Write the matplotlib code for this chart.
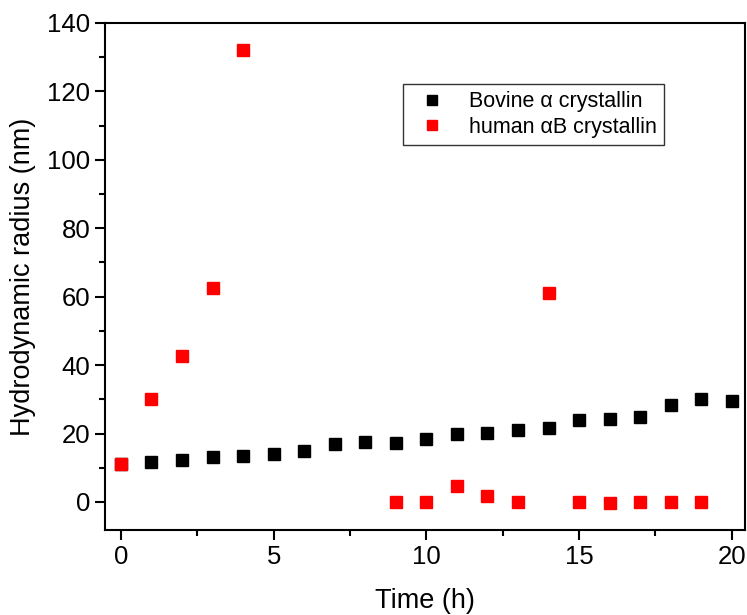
import matplotlib
matplotlib.use('Agg')
from matplotlib import pyplot as plt
from matplotlib.ticker import MultipleLocator

plt.rcParams['font.family'] = ['Liberation Sans', 'DejaVu Sans']

#bovine alpha crystallin
time_bovine = [0, 1, 2, 3, 4, 5, 6, 7, 8, 9, 10, 11, 12, 13, 14, 15, 16, 17, 18, 19, 20]
radius_bovine = [11.0, 11.7, 12.3, 13.2, 13.4, 14.0, 15.0, 16.8, 17.5, 17.2, 18.5,
                 19.8, 20.3, 21.0, 21.6, 23.9, 24.2, 24.8, 28.2, 30.2, 29.6]

#human alphaB crystallin
time_human = [0, 1, 2, 3, 4, 9, 10, 11, 12, 13, 14, 15, 16, 17, 18, 19]
radius_human = [11.2, 30.0, 42.7, 62.5, 132.0, 0.0, 0.0, 4.7, 1.6, 0.0, 61.0,
                0.0, -0.3, 0.1, 0.0, 0.1]

fig = plt.figure(figsize=(7.47, 6.15), dpi=100)
ax = fig.add_axes([105/747, 85/615, 640/747, 507/615])

ax.plot(time_bovine, radius_bovine, 's', color='black', markersize=9,
        label='Bovine \u03b1 crystallin')
ax.plot(time_human, radius_human, 's', color='red', markersize=9,
        label='human \u03b1B crystallin')

ax.set_xlim(-0.52, 20.43)
ax.set_ylim(-8.2, 140)
ax.xaxis.set_major_locator(MultipleLocator(5))
ax.xaxis.set_minor_locator(MultipleLocator(2.5))
ax.yaxis.set_major_locator(MultipleLocator(20))
ax.yaxis.set_minor_locator(MultipleLocator(10))
ax.tick_params(which='major', direction='out', length=7, width=1.5, labelsize=18.5,
               top=False, right=False)
ax.tick_params(which='minor', direction='out', length=4, width=1.5,
               top=False, right=False)
for s in ax.spines.values():
    s.set_linewidth(1.5)

ax.set_xlabel('Time (h)', fontsize=19.5, labelpad=14)
ax.set_ylabel('Hydrodynamic radius (nm)', fontsize=19.5, labelpad=8)

leg = ax.legend(loc='upper left', bbox_to_anchor=(0.466, 0.880), borderaxespad=0,
                fontsize=15.5, frameon=True, fancybox=False, edgecolor='black',
                handletextpad=0.7, borderpad=0.35, labelspacing=0.2,
                handlelength=2.0, markerscale=0.8)
leg.get_frame().set_linewidth(1.0)

plt.savefig('out.png', dpi=100)
